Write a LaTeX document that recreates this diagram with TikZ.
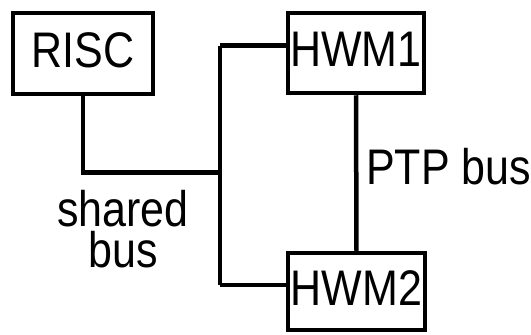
\documentclass[tikz,border=0pt]{standalone}
\usepackage{fontspec}
\setmainfont[FakeStretch=0.86]{Liberation Sans}
\usetikzlibrary{positioning}

\begin{document}
\begin{tikzpicture}[x=1pt,y=1pt,line width=4.5pt,
    big/.style={font=\fontsize{50}{41}\selectfont},
    module/.style={draw,big,inner sep=0pt,text depth=7pt},
    lbl/.style={big,inner sep=0pt}]
  \useasboundingbox (0,0) rectangle (531,-335);

  % the three modules
  \node[module,minimum width=140pt,minimum height=81pt] (risc) at (83,-53.5) {RISC};
  \node[module,minimum width=136pt,minimum height=80pt] (hwm1) at (356,-53) {HWM1};
  \node[module,minimum width=137pt,minimum height=77pt] (hwm2) at (356.5,-291.5) {HWM2};

  % shared bus
  \coordinate (tap) at (220,-172.5);
  \coordinate (up)  at (220,-45.5);
  \coordinate (dn)  at (220,-285);
  \draw (risc.south) |- (tap);
  \draw (up) -- (dn);
  \draw (up) -- (hwm1.west |- up);
  \draw (dn) -- (hwm2.west |- dn);

  % point to point bus
  \draw (hwm1.south) -- (hwm2.north);

  \node[lbl,align=center] (shared) at (123,-229.5) {shared\\bus};
  \node[lbl,anchor=base west] (ptp) at (364,-184) {PTP bus};
\end{tikzpicture}
\end{document}
